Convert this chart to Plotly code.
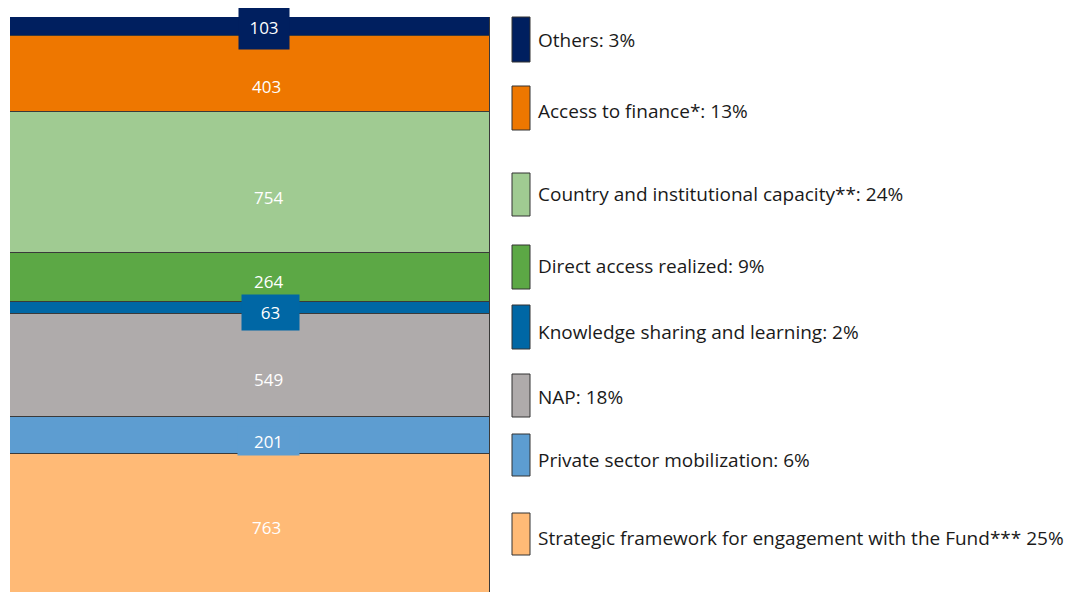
import plotly.graph_objects as go

# ──────────────────────────────────────────────────────────────────────
# Data (bottom of the stack first)
# ──────────────────────────────────────────────────────────────────────
categories = [
    "Strategic framework for engagement with the Fund",
    "Private sector mobilization",
    "NAP",
    "Knowledge sharing and learning",
    "Direct access realized",
    "Country and institutional capacity",
    "Access to finance",
    "Others",
]
values = [763, 201, 549, 63, 264, 754, 403, 103]
legend_labels = [
    "Strategic framework for engagement with the Fund*** 25%",
    "Private sector mobilization: 6%",
    "NAP: 18%",
    "Knowledge sharing and learning: 2%",
    "Direct access realized: 9%",
    "Country and institutional capacity**: 24%",
    "Access to finance*: 13%",
    "Others: 3%",
]
colors = ["#FFBA76", "#5D9DD1", "#AFABAB", "#0067A5",
          "#5CA845", "#A0CB92", "#EE7700", "#001F5F"]

# ──────────────────────────────────────────────────────────────────────
# Layout helpers. Positions below are screen pixels; the page body
# has an 8px margin, so the figure itself starts at (8, 8).
# ──────────────────────────────────────────────────────────────────────
W, H = 1072, 592
OFF = 8
PL, PR, PT, PB = 10 - OFF, 490 - OFF, 17 - OFF, 597 - OFF
FONT = "Open Sans"


def px_x(px):
    return (px - OFF - PL) / (PR - PL)


def px_y(py):
    return (PB - (py - OFF)) / (PB - PT)


# label nudges (px) and boxed labels (width, height)
label_dy = [2, 6, 14, 4, 4, 15, 13, 1]
label_dx = [16, 18, 18, 20, 18, 18, 16, 14]
boxed = {1: (59, 26), 3: (55, 33), 7: (48, 41)}

# legend swatches: (top, bottom) in screen pixels, text centre y
legend_box = [(513, 555), (434, 476), (374, 417), (305, 349),
              (245, 289), (173, 216), (86, 130), (17, 62)]
legend_text_y = [538, 460, 397, 332, 266, 194, 111, 40]

total = sum(values)

fig = go.Figure()
for cat, val, col in zip(categories, values, colors):
    fig.add_trace(go.Bar(
        x=[0], y=[val], name=cat, marker_color=col,
        marker_line=dict(color="#3a3a3a", width=1),
        showlegend=False, hoverinfo="name+y",
    ))

annotations = []
shapes = []
cum = 0
for i, val in enumerate(values):
    mid = cum + val / 2
    cum += val
    ann = dict(
        x=0, y=mid, xref="x", yref="y", text=str(val), showarrow=False,
        font=dict(family=FONT, size=17, color="white"),
        xshift=label_dx[i], yshift=-label_dy[i],
    )
    if i in boxed:
        w, h = boxed[i]
        ann.update(bgcolor=colors[i], width=w, height=h)
    annotations.append(ann)

for i, lab in enumerate(legend_labels):
    top, bot = legend_box[i]
    shapes.append(dict(
        type="rect", xref="paper", yref="paper",
        x0=px_x(512), x1=px_x(530), y0=px_y(bot), y1=px_y(top),
        fillcolor=colors[i], line=dict(color="#333333", width=1),
    ))
    annotations.append(dict(
        x=px_x(536), y=px_y(legend_text_y[i]), xref="paper", yref="paper",
        text=lab, showarrow=False, xanchor="left", yanchor="middle",
        font=dict(family=FONT, size=19, color="#1a1a1a"),
    ))

fig.update_layout(
    width=W, height=H,
    margin=dict(l=PL, r=W - PR, t=PT, b=H - PB, pad=0, autoexpand=False),
    barmode="stack", bargap=0,
    plot_bgcolor="white", paper_bgcolor="white",
    xaxis=dict(visible=False, range=[-0.5, 0.5]),
    yaxis=dict(visible=False, range=[0, total]),
    annotations=annotations, shapes=shapes,
    font=dict(family=FONT),
)

fig.write_html("out.html")
